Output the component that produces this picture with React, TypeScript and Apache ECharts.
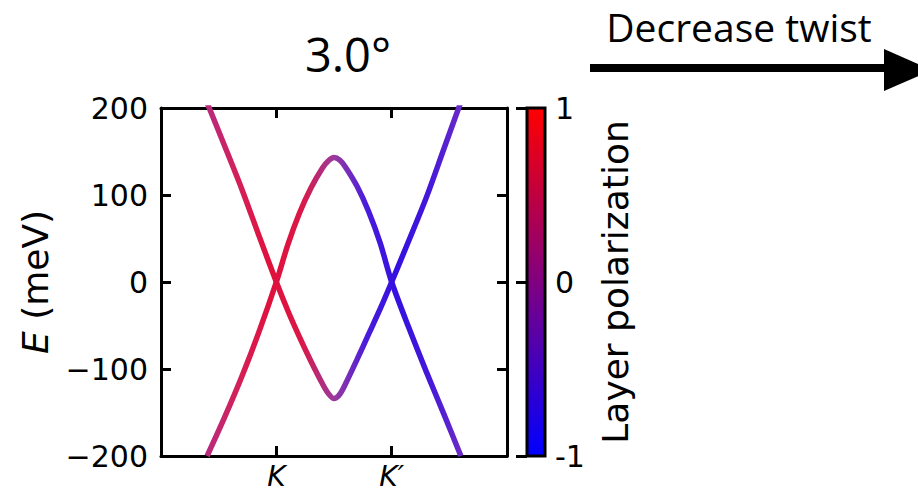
import React, { useEffect, useRef } from "react";
import * as echarts from "echarts";

// momentum coordinate (K = 0, K' = 1)
const kGrid = [-0.6, -0.45, -0.3, -0.15, 0, 0.1, 0.2, 0.3, 0.4, 0.45, 0.5, 0.55, 0.6, 0.7, 0.8, 0.9, 1.0, 1.15, 1.3, 1.45, 1.6];
// band rising to the maximum between K and K' (meV)
const bandUpper = [-200, -156, -109, -57, 0, 43, 79, 108, 131, 139, 143, 140, 132, 110, 81, 45, 0, -53, -103, -151, -200];
// band falling to the minimum between K and K' (meV)
const bandLower = [206, 157, 107, 53, 0, -33, -63, -91, -117, -128, -134, -129, -117, -89, -60, -31, 0, 48, 97, 152, 207];

// line colour (layer polarization) read along k, evenly spaced from -0.6 to 1.6
const polarColors = ["#b92a7c", "#d42058", "#e0103c", "#da1848", "#9a3a9e", "#4a1cdc", "#3510e0", "#4418da", "#6a2ac6"];

const yTicks = [-200, -100, 0, 100, 200];
const xTickNames: Record<number, string> = { 0: "K", 1: "K\u2032" };
const colorbarTicks = [-1, 0, 1];

const FONT = "DejaVu Sans";
const TITLE_FONT = "Open Sans";

export default function App() {
  const ref = useRef<HTMLDivElement>(null);
  useEffect(() => {
    if (!ref.current) return;
    const chart = echarts.init(ref.current, null, { renderer: "svg" });
    const axisLine = { show: true, onZero: false, lineStyle: { color: "#000", width: 3 } };
    const tickInside = { show: true, inside: true, length: 10, lineStyle: { color: "#000", width: 3 } };
    const option: any = {
      animation: false,
      backgroundColor: "#fff",
      grid: [
        { left: 161, top: 108, width: 346, height: 348, outerBoundsMode: "none", containLabel: false },
        {
          left: 527, top: 108, width: 18, height: 348, show: true, outerBoundsMode: "none",
          borderColor: "#000", borderWidth: 3,
          backgroundColor: new echarts.graphic.LinearGradient(0, 0, 0, 1, [
            { offset: 0, color: "#ff0000" },
            { offset: 0.5, color: "#800080" },
            { offset: 1, color: "#0000ff" },
          ]),
        },
      ],
      xAxis: [
        {
          type: "value", gridIndex: 0, position: "bottom", min: -1, max: 2, interval: 1,
          axisLine, axisTick: tickInside, splitLine: { show: false },
          axisLabel: {
            show: true, margin: 8, fontSize: 28, fontFamily: FONT, fontStyle: "italic", color: "#000",
            lineHeight: 24,
            formatter: (v: number) => xTickNames[v] ?? "",
          },
        },
        {
          type: "value", gridIndex: 0, position: "top", min: -1, max: 2, interval: 1,
          axisLine, axisTick: tickInside, splitLine: { show: false }, axisLabel: { show: false },
        },
        { type: "value", gridIndex: 1, min: 0, max: 1, show: false },
      ],
      yAxis: [
        {
          type: "value", gridIndex: 0, position: "left", min: yTicks[0], max: yTicks[yTicks.length - 1], interval: 100,
          axisLine, axisTick: tickInside, splitLine: { show: false },
          axisLabel: {
            margin: 13, fontSize: 30, fontFamily: FONT, color: "#000",
            formatter: (v: number) => (v < 0 ? "\u2212" + Math.abs(v) : String(v)),
          },
          name: "{i|E} (meV)", nameLocation: "middle", nameGap: 108,
          nameTextStyle: {
            fontSize: 36, fontFamily: FONT, color: "#000",
            rich: { i: { fontStyle: "italic", fontSize: 36, fontFamily: FONT, color: "#000" } },
          },
        },
        {
          type: "value", gridIndex: 0, position: "right", min: yTicks[0], max: yTicks[yTicks.length - 1], interval: 100,
          axisLine, axisTick: tickInside, splitLine: { show: false }, axisLabel: { show: false },
        },
        {
          type: "value", gridIndex: 1, position: "right", min: colorbarTicks[0], max: colorbarTicks[2], interval: 1,
          axisLine: { show: false }, splitLine: { show: false },
          axisTick: { show: true, inside: true, length: 11, lineStyle: { color: "#000", width: 3 } },
          axisLabel: {
            margin: 10, fontSize: 30, fontFamily: FONT, color: "#000",
            formatter: (v: number) => String(v),
          },
          name: "Layer polarization", nameLocation: "middle", nameRotate: 90, nameGap: 52,
          nameTextStyle: { fontSize: 36, fontFamily: FONT, color: "#000" },
        },
      ],
      visualMap: [
        {
          type: "continuous", show: false, dimension: 0, seriesIndex: [0, 1],
          min: kGrid[0], max: kGrid[kGrid.length - 1],
          inRange: { color: polarColors },
        },
      ],
      series: [
        {
          type: "line", xAxisIndex: 0, yAxisIndex: 0, smooth: 0.3, showSymbol: false, clip: true,
          lineStyle: { width: 5.5 },
          data: kGrid.map((k, i) => [k, bandUpper[i]]),
        },
        {
          type: "line", xAxisIndex: 0, yAxisIndex: 0, smooth: 0.3, showSymbol: false, clip: true,
          lineStyle: { width: 5.5 },
          data: kGrid.map((k, i) => [k, bandLower[i]]),
        },
      ],
      graphic: [
        {
          type: "text", x: 348, y: 54,
          style: { text: "3.0\u00b0", fontSize: 47, fontFamily: TITLE_FONT, fill: "#000", textAlign: "center", textVerticalAlign: "middle" },
        },
        {
          type: "text", x: 739, y: 26,
          style: { text: "Decrease twist", fontSize: 39, fontFamily: TITLE_FONT, fill: "#000", textAlign: "center", textVerticalAlign: "middle" },
        },
        { type: "line", shape: { x1: 590, y1: 68, x2: 888, y2: 68 }, style: { stroke: "#000", lineWidth: 8 } },
        { type: "polygon", shape: { points: [[884, 49], [884, 91], [932, 70]] }, style: { fill: "#000" } },
      ],
    };
    chart.setOption(option);
    return () => chart.dispose();
  }, []);
  return <div ref={ref} style={{ position: "fixed", left: 0, top: 0, width: 918, height: 492 }} />;
}
